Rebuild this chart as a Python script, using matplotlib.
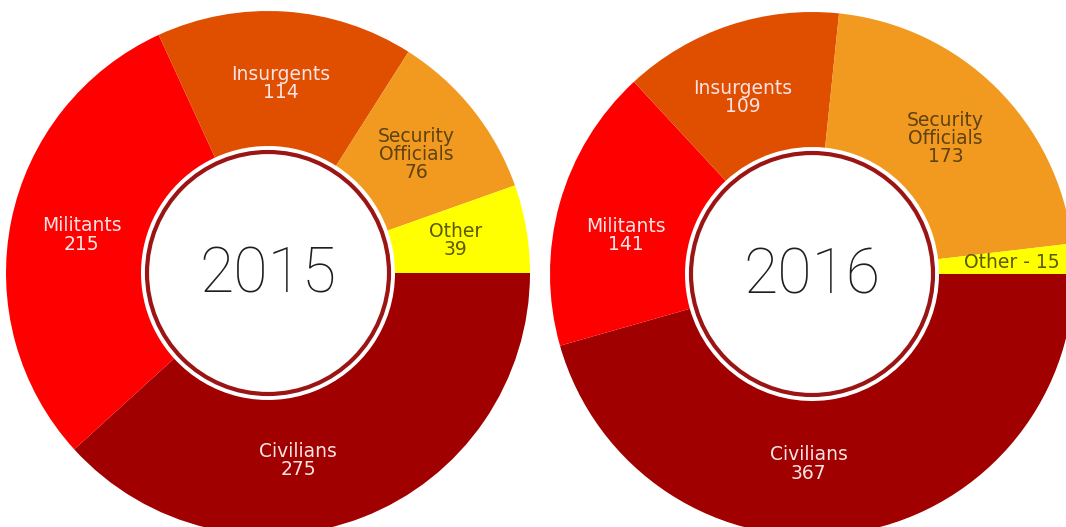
import matplotlib
matplotlib.use("Agg")
import matplotlib.pyplot as plt
import numpy as np
from matplotlib.patches import Circle

categories = ["Civilians", "Militants", "Insurgents", "Security\nOfficials", "Other"]
deaths_2015 = [275, 215, 114, 76, 39]
deaths_2016 = [367, 141, 109, 173, 15]
years = ["2015", "2016"]

colors = ["#a00000", "#ff0000", "#e04e00", "#f29a1f", "#ffff00"]
text_colors = ["#fbe4e4", "#fbe4e4", "#fbe4e4", "#5e4210", "#5a5a00"]

# where each donut sits, in pixel units of the 1066x527 canvas (y up)
CENTERS = [(268, 254), (812, 253)]
R_OUT, R_IN, RING = 262, 127, 121
LABEL_R = 190
# small angular nudges (deg) for labels that are not at the wedge middle
NUDGE = {("2015", "Civilians"): -12, ("2016", "Civilians"): -9,
         ("2016", "Militants"): 4, ("2016", "Insurgents"): 3}

fig = plt.figure(figsize=(10.66, 5.27), dpi=100)
ax = fig.add_axes([0, 0, 1, 1])

for year, vals, (cx, cy) in zip(years, [deaths_2015, deaths_2016], CENTERS):
    wedges, _ = ax.pie(vals, colors=colors, startangle=0, counterclock=False,
                       radius=R_OUT, center=(cx, cy),
                       wedgeprops=dict(width=R_OUT - R_IN, linewidth=0))
    for w, cat, val, tc in zip(wedges, categories, vals, text_colors):
        mid = (w.theta1 + w.theta2) / 2 + NUDGE.get((year, cat), 0)
        if cat == "Other" and val < 20:
            txt = f"{cat} - {val}"
            r = 200
        else:
            txt = f"{cat}\n{val}"
            r = LABEL_R
        x = cx + r * np.cos(np.radians(mid))
        y = cy + r * np.sin(np.radians(mid))
        ax.text(x, y, txt, ha="center", va="center", color=tc,
                fontsize=13.5, family="DejaVu Sans", linespacing=0.95)
    ax.add_patch(Circle((cx, cy), RING, facecolor="white",
                        edgecolor="#9c1515", linewidth=3, zorder=3))
    ax.text(cx, cy - 2, year, ha="center", va="center", fontsize=45,
            family="Roboto", fontweight="light", color="#1e1e1e", zorder=4)

ax.set_xlim(0, 1066)
ax.set_ylim(0, 527)
ax.set_aspect("equal")
ax.axis("off")

fig.savefig("out.png", dpi=100, facecolor="white")
